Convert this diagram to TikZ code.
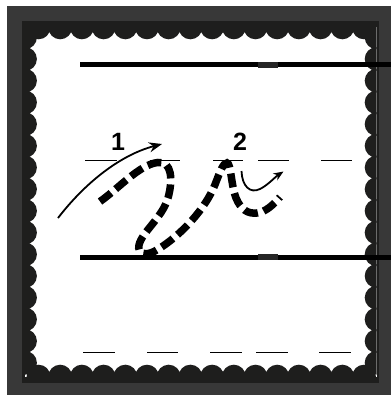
\documentclass[tikz,border=0pt]{standalone}
\usepackage{fontspec}
\setmainfont{Liberation Sans}
\usetikzlibrary{arrows.meta}

\definecolor{frameout}{RGB}{56,56,56}
\definecolor{frameink}{RGB}{30,30,29}

\begin{document}
\begin{tikzpicture}[x=1pt, y=-1pt,
  guide/.style={line width=5pt},
  midguide/.style={line width=1.5pt},
  pen/.style={line width=7.5pt, dash pattern=on 14pt off 6pt},
  hint/.style={line width=1.8pt, -{Stealth[length=13pt, width=10pt]}},
  digit/.style={font=\fontsize{25}{30}\selectfont\bfseries, inner sep=0pt}]

  \useasboundingbox (0,0) rectangle (391,395);
  \fill[white] (0,0) rectangle (391,395);

  % Stamp frame
  \fill[frameout] (7,6) rectangle (391,395);
  \fill[frameink] (22,21) rectangle (379,383);
  \fill[white] (25,27.4) rectangle (376.6,376.6);

  % Scalloped edge
  \begin{scope}
    \clip (25,27.4) rectangle (376.6,376.6);
    \foreach \i in {0,...,15} {
      \fill[frameink] (38.5+21.7*\i, 27.4) circle (11.9);
      \fill[frameink] (38.5+21.7*\i, 376.6) circle (11.9);
      \fill[frameink] (25, 37.3+21.7*\i) circle (11.9);
      \fill[frameink] (376.6, 37.3+21.7*\i) circle (11.9);
    }
  \end{scope}

  % Writing lines
  \draw[guide] (80,65) -- (391,65);
  \draw[guide] (80,257.3) -- (391,257.3);
  \draw[black!85, line width=6pt] (258,65) -- (278,65);
  \draw[black!85, line width=6pt] (258,257.3) -- (278,257.3);
  \foreach \a/\b in {85/117,150/180,213/243,258/289,321/352}
    \draw[midguide] (\a,160.5) -- (\b,160.5);
  \foreach \a/\b in {83/115,147/178,210/242,256/288,319/351}
    \draw[midguide] (\a,352.7) -- (\b,352.7);

  % Stroke numbers
  \node[digit, anchor=base] (one) at (118,150) {1};
  \node[digit, anchor=base] (two) at (240,150.5) {2};

  % Direction hints
  \draw[hint] (58,218) .. controls (85,183) and (120,155) .. (162,144);
  \draw[hint, -{Stealth[length=10pt, width=8pt]}]
    (241.5,171) .. controls (242,186) and (250,194) .. (260,189)
    .. controls (268,185) and (275,177) .. (283.5,171.5);

  % Letter shape
  \draw[pen] (100,201.5) .. controls (118,189) and (140,164) .. (158,162.5)
    .. controls (172,161) and (173,180) .. (168,198)
    .. controls (162,218) and (142,232) .. (139,245)
    .. controls (137,254) and (146,256) .. (155,251)
    .. controls (175,240) and (205,212) .. (216,182)
    .. controls (220,172) and (223,163) .. (227,163)
    .. controls (231,163) and (231,185) .. (236,198)
    .. controls (241,210) and (248,214) .. (257,213)
    .. controls (266,212) and (274,204) .. (280,197);

\end{tikzpicture}
\end{document}
